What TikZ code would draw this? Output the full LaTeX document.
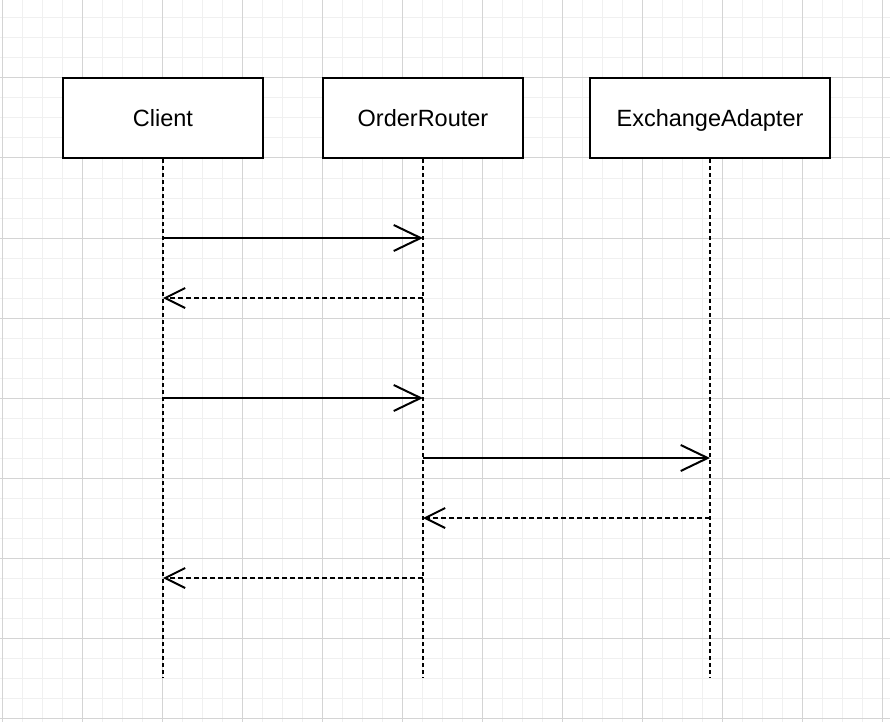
\documentclass[tikz,border=0pt]{standalone}
\usepackage{fontspec}
\setmainfont{Liberation Sans}
\usetikzlibrary{arrows.meta}
\definecolor{gridminor}{HTML}{F0F0F0}
\definecolor{gridmajor}{HTML}{D4D4D4}
\begin{document}
\begin{tikzpicture}[x=1pt,y=-1pt,
  actor/.style={draw=black,line width=2pt,fill=white,minimum height=80pt,inner sep=0pt,text height=18pt,text depth=0pt,font=\fontsize{23.5}{28}\selectfont},
  lifeline/.style={line width=2pt,dash pattern=on 4pt off 3pt},
  callmsg/.style={line width=2pt,-{Straight Barb[length=27pt,width=26pt,line width=2pt]}},
  retmsg/.style={line width=2pt,dash pattern=on 5pt off 3pt,-{Straight Barb[length=20pt,width=20pt,line width=2pt]}}]
\useasboundingbox (0,0) rectangle (890,722);
\fill[white] (0,0) rectangle (890,722);
% grid
\foreach \x in {2,22,...,882} \draw[gridminor,line width=1pt] (\x,0) -- (\x,722);
\foreach \y in {18,38,...,718} \draw[gridminor,line width=1pt] (0,\y) -- (890,\y);
\foreach \x in {2,82,...,882} \draw[gridmajor,line width=1pt] (\x,0) -- (\x,722);
\foreach \y in {-2,78,...,718} \draw[gridmajor,line width=1pt] (0,\y) -- (890,\y);
% actors
\node[actor,minimum width=200pt] (client) at (163,118) {Client};
\node[actor,minimum width=200pt] (router) at (423,118) {OrderRouter};
\node[actor,minimum width=240pt] (exch) at (710,118) {ExchangeAdapter};
% lifeline ends
\coordinate (clientEnd) at (163,678);
\coordinate (routerEnd) at (423,678);
\coordinate (exchEnd) at (710,678);
\draw[lifeline] (client.south) -- (clientEnd);
\draw[lifeline] (router.south) -- (routerEnd);
\draw[lifeline] (exch.south) -- (exchEnd);
% message points
\coordinate (c1) at (163,238); \coordinate (r1) at (423,238);
\coordinate (c2) at (163,298); \coordinate (r2) at (423,298);
\coordinate (c3) at (163,398); \coordinate (r3) at (423,398);
\coordinate (r4) at (423,458); \coordinate (e4) at (710,458);
\coordinate (r5) at (423,518); \coordinate (e5) at (710,518);
\coordinate (c6) at (163,578); \coordinate (r6) at (423,578);
\draw[callmsg] (c1) -- (r1);
\draw[retmsg] (r2) -- (c2);
\draw[callmsg] (c3) -- (r3);
\draw[callmsg] (r4) -- (e4);
\draw[retmsg] (e5) -- (r5);
\draw[retmsg] (r6) -- (c6);
\end{tikzpicture}
\end{document}
